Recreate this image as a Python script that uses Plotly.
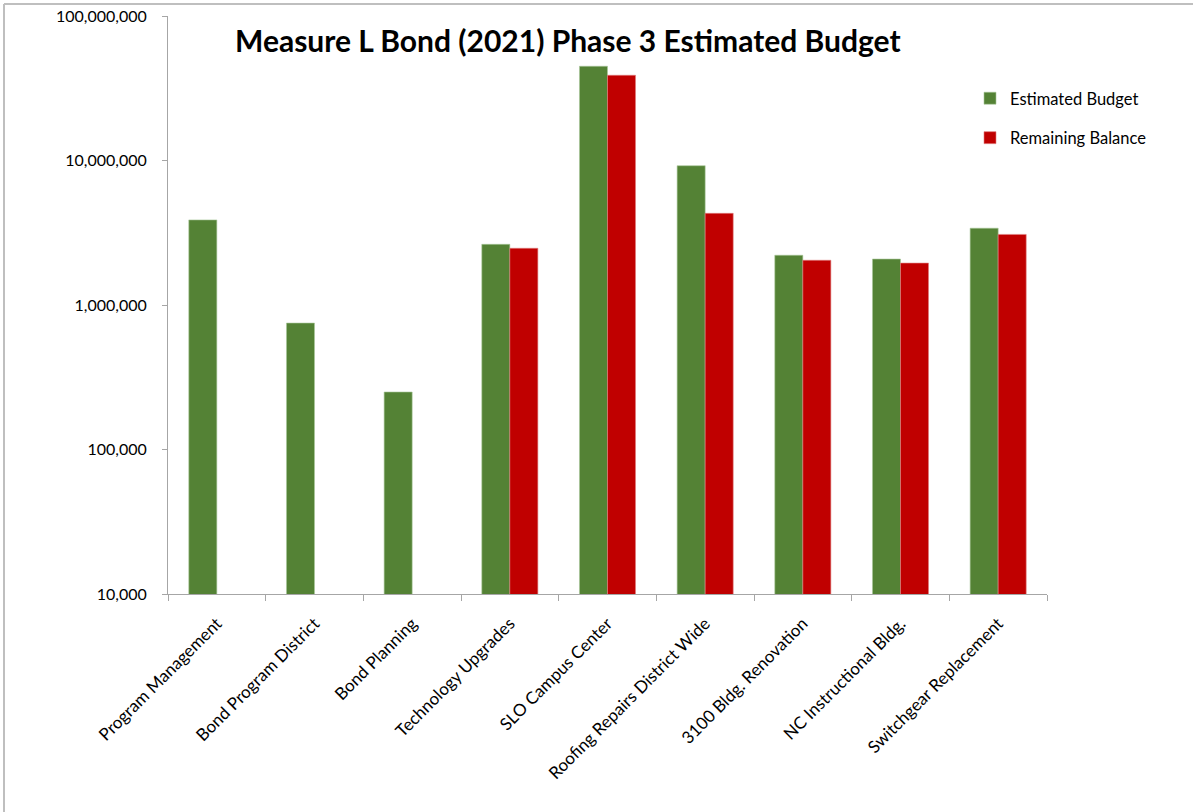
import plotly.graph_objects as go

categories = ["Program Management", "Bond Program District", "Bond Planning",
              "Technology Upgrades", "SLO Campus Center", "Roofing Repairs District Wide",
              "3100 Bldg. Renovation", "NC Instructional Bldg.", "Switchgear Replacement"]
estimated_budget = [3880000, 750000, 250000, 2630000, 44900000, 9200000, 2210000, 2080000, 3400000]
remaining_balance = [None, None, None, 2470000, 38900000, 4310000, 2040000, 1950000, 3080000]
y_tick_values = [1e4, 1e5, 1e6, 1e7, 1e8]
y_tick_labels = ["10,000", "100,000", "1,000,000", "10,000,000", "100,000,000"]

W, H = 1193, 812
L, R, T, B = 168, 1047, 16, 594
pw, ph = R - L, B - T

def px(x):
    return (x - L) / pw

def py(y):
    return (B - y) / ph

font = "Lato"
axis_col = "#a6a6a6"

fig = go.Figure()
fig.add_trace(go.Bar(name="Estimated Budget", x=categories, y=estimated_budget,
                     marker=dict(color="#548235", line=dict(color="#a9c79a", width=0.6)),
                     legendgroup="a"))
fig.add_trace(go.Bar(name="Remaining Balance", x=categories, y=remaining_balance,
                     marker=dict(color="#c00000", line=dict(color="#e08080", width=0.6)),
                     legendgroup="b"))

fig.update_layout(
    width=W, height=H,
    margin=dict(l=L, r=W - R, t=T, b=H - B, pad=0, autoexpand=False),
    paper_bgcolor="white", plot_bgcolor="white",
    barmode="group", bargap=0.426, bargroupgap=0,
    font=dict(family=font, color="#000000", size=16),
    showlegend=True,
    legend=dict(x=px(970), y=py(81), xanchor="left", yanchor="top",
                font=dict(size=16.5, family=font), traceorder="grouped",
                tracegroupgap=15, bgcolor="rgba(0,0,0,0)", itemwidth=30),
    xaxis=dict(type="category", showline=True, linecolor=axis_col, linewidth=1,
               ticks="outside", ticklen=6, tickcolor=axis_col, tickson="boundaries",
               tickangle=-45, tickfont=dict(size=17, family=font), showgrid=False,
               zeroline=False, automargin=False, ticklabelstandoff=12),
    yaxis=dict(type="log", range=[4, 8], showline=True, linecolor=axis_col, linewidth=1,
               ticks="outside", ticklen=5, tickcolor=axis_col,
               tickvals=y_tick_values, ticktext=y_tick_labels,
               tickfont=dict(size=16, family=font), showgrid=False, zeroline=False,
               automargin=False, ticklabelstandoff=12, ticklabeloverflow="allow"),
    annotations=[dict(text="<b>Measure L Bond (2021) Phase 3 Estimated Budget</b>",
                      xref="paper", yref="paper", x=px(568), y=py(40),
                      xanchor="center", yanchor="middle", showarrow=False,
                      font=dict(size=30, family=font, color="#000000"))],
    shapes=[
        dict(type="line", xref="paper", yref="paper", x0=px(4), x1=px(4), y0=py(4), y1=py(830),
             line=dict(color="#bfbfbf", width=2)),
        dict(type="line", xref="paper", yref="paper", x0=px(4), x1=px(1210), y0=py(4), y1=py(4),
             line=dict(color="#bfbfbf", width=2)),
    ],
)

fig.write_html("out.html", config={"displayModeBar": False},
               post_script="document.body.style.margin='0px';document.body.style.overflow='hidden';")
